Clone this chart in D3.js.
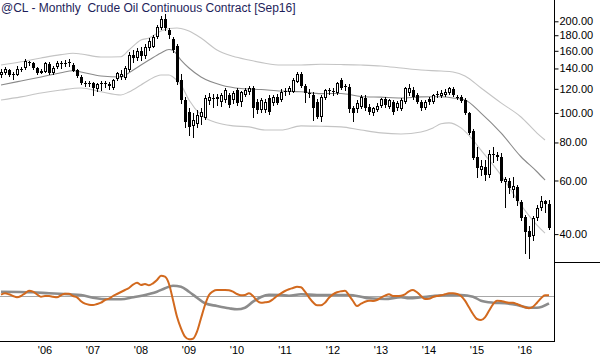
<!DOCTYPE html>
<html><head><meta charset="utf-8">
<script src="https://cdn.jsdelivr.net/npm/d3@7"></script>
<style>body{margin:0;background:#fff}svg{display:block}</style>
</head><body><svg id="c" width="600" height="360"></svg>
<script>
// Monthly bars: Feb 2005 .. Jul 2016
const months = d3.timeMonth.range(new Date(2005, 1, 1), new Date(2016, 7, 1));

const open = [133.3,135.0,138.3,133.3,133.3,138.3,140.2,147.3,145.6,140.2,
135.6,136.6,144.8,135.0,141.2,145.9,144.8,145.4,143.7,138.3,
131.6,125.2,125.5,125.0,119.6,124.3,125.0,122.7,120.5,129.0,
131.3,130.3,138.3,155.1,151.5,159.8,153.9,163.5,165.2,177.4,
189.7,203.6,187.3,175.0,165.9,128.3,110.3,100.7,90.7,92.1,
97.0,96.3,109.5,112.0,111.2,108.9,110.3,114.6,110.3,118.9,
108.7,114.6,117.2,120.8,108.7,102.2,102.2,112.0,107.9,112.5,
110.3,117.4,117.2,117.4,126.7,134.3,122.7,116.0,114.6,108.9,
97.3,112.0,118.3,117.4,116.0,128.3,122.0,122.0,103.8,103.0,
104.6,111.7,104.8,100.2,102.2,105.4,110.9,104.8,108.9,103.5,
102.8,108.9,116.0,118.9,114.6,108.9,103.5,111.2,108.9,114.6,
113.8,114.6,116.3,119.8,113.1,112.9,110.3,99.9,87.2,71.6,
64.9,66.5,62.5,72.7,72.7,71.6,59.3,59.7,55.8,57.1,
51.0,45.5,41.0,39.4,45.2,48.7,51.2,50.1];
const high = [139.1,142.0,139.1,136.6,142.7,141.6,150.0,148.6,147.0,141.6,
139.4,147.0,146.5,142.7,148.1,148.6,149.2,150.4,145.9,139.4,
133.3,127.4,126.9,126.0,125.5,127.8,127.4,126.4,129.3,136.3,
138.3,142.7,158.6,161.0,163.5,164.7,168.6,176.3,180.3,194.6,
208.3,211.5,190.2,177.7,168.6,134.3,112.9,103.8,99.7,102.2,
103.8,114.6,116.3,115.5,115.5,116.3,120.8,116.3,118.0,120.8,
118.0,120.8,122.7,122.7,111.1,112.0,111.1,114.6,114.6,115.5,
119.8,120.8,122.7,130.3,136.3,136.3,124.5,119.8,117.2,111.1,
114.6,119.8,120.8,120.8,126.4,130.3,124.5,124.5,105.4,110.3,
114.6,114.6,107.1,104.6,107.9,112.0,112.9,111.2,110.3,109.5,
112.0,121.7,124.5,121.7,116.3,110.3,110.3,112.9,115.5,118.0,
118.9,119.8,121.7,121.7,114.6,114.6,112.0,100.7,88.6,77.3,
70.0,70.0,75.5,77.3,74.4,73.8,61.6,61.2,61.6,58.0,
51.7,46.3,42.5,45.9,49.8,53.3,51.7,51.7];
const low = [131.6,134.0,132.3,129.0,132.8,137.3,139.4,143.7,139.4,134.3,
134.8,136.3,134.3,134.3,140.5,141.0,142.1,142.7,137.3,131.3,
124.5,123.0,122.6,114.6,118.5,118.9,121.7,119.8,119.8,128.3,
129.3,129.3,137.3,147.0,149.2,149.2,151.5,161.0,164.2,176.6,
188.8,187.3,176.3,158.6,124.5,107.9,90.0,84.7,83.4,90.0,
92.1,95.5,107.1,104.6,106.2,105.4,108.7,104.6,107.9,106.2,
105.4,113.8,115.5,97.0,100.0,100.7,100.7,99.3,106.2,107.1,
109.5,114.6,115.5,117.2,126.4,121.7,108.9,112.9,94.8,96.3,
93.9,111.1,115.5,114.6,115.5,119.8,118.9,100.7,93.9,100.7,
103.8,102.2,99.3,98.5,101.5,104.6,104.6,103.8,99.3,102.2,
102.2,107.9,114.6,111.2,107.9,102.2,103.0,107.1,107.9,112.9,
112.9,113.8,115.5,113.8,111.2,108.7,99.3,85.3,70.6,61.6,
62.5,60.2,61.6,69.0,70.0,59.3,49.1,54.6,53.0,49.8,
44.5,34.7,33.4,38.2,44.5,48.0,47.3,41.5];
const close = [136.6,139.4,133.3,133.8,139.1,139.4,148.1,145.6,140.2,135.6,
137.6,145.6,135.0,140.2,146.3,144.8,145.9,147.0,137.6,132.3,
125.2,125.5,125.0,120.5,124.3,125.0,124.5,124.5,128.3,135.0,
133.8,140.2,155.1,151.5,159.8,153.9,164.7,172.3,177.0,191.7,
203.6,189.7,179.8,161.0,126.4,110.3,93.6,90.0,94.8,98.5,
100.7,112.0,112.9,111.6,112.9,114.6,118.9,106.2,116.3,107.9,
117.2,118.9,120.8,103.8,102.2,110.3,108.7,100.7,112.9,108.1,
117.4,118.0,120.8,128.3,134.3,122.7,116.0,116.3,103.8,97.3,
113.1,118.9,118.6,118.0,125.2,120.5,122.7,102.8,100.2,107.9,
113.1,103.5,100.9,103.5,105.4,110.9,106.2,110.3,100.9,108.1,
110.3,120.5,120.5,112.9,108.9,103.5,108.9,108.9,114.6,115.5,
116.6,117.4,120.5,114.6,112.7,109.7,99.9,85.9,71.1,65.9,
67.0,62.5,73.3,73.3,71.6,59.7,60.7,56.7,57.6,51.2,
45.2,40.6,39.2,45.2,48.7,51.2,50.1,41.9];

// Channel lines (month index, value)
const midIdx = [0,5,10,15,18,20,25,30,32,35,37,40,42,43,45,47,50,55,60,65,70,75,80,85,90,95,100,105,110,113,116,120,125,130,134,136];
const midVal = [123.6,127.4,131.3,135.6,137.6,136.3,132.3,131.3,135.6,143.7,149.2,157.5,161.6,160.4,149.2,140.5,131.3,123.6,120.3,119.4,118.0,117.4,115.7,115.9,113.3,112.7,112.0,112.9,113.0,112.0,110.3,99.9,86.0,71.8,64.1,60.2];
const upIdx = [0,5,10,15,18,20,25,30,32,35,37,40,42,44,45,47,50,54,58,62,66,70,75,80,85,90,95,100,105,110,113,116,120,125,130,134,136];
const upVal = [143.7,147.2,151.5,155.4,157.0,156.2,152.7,153.0,161.0,173.6,176.3,185.9,189.5,190.2,189.5,185.9,176.3,161.0,153.5,149.2,145.6,143.7,143.7,144.5,144.2,143.7,142.7,140.5,138.3,137.3,136.3,132.3,120.8,107.9,97.0,85.9,81.5];
const lowIdx = [0,5,10,15,20,25,30,32,35,37,40,42,43,45,47,50,54,58,62,66,70,75,80,85,90,95,100,105,108,110,112,115,118,120,125,130,134,136];
const lowVal = [110.3,112.9,116.3,118.9,120.8,117.4,114.6,117.2,123.6,128.3,133.3,133.3,131.3,123.6,110.3,98.5,92.8,90.7,90.0,87.9,87.9,90.7,90.4,90.0,87.9,86.0,85.3,86.6,89.3,92.1,92.8,89.3,81.5,75.5,62.5,49.8,42.8,40.3];

// Oscillator panel
const oscFast = [1.3,2.7,1.7,0,-1.3,0,2.7,5.3,4.3,1.7,
-0.7,0,0,-0.7,-1.3,0.7,2.3,2.3,0,-1.3,
-5.3,-7.7,-8.7,-9,-8,-6.7,-4,-2.7,0,2,
4,6,8,11.3,13.3,11,12,10.7,12.7,16,
20.3,19.3,12,-4,-20.7,-32.3,-40.7,-43.3,-42.7,-35.7,
-22.3,-9,1,4.7,6,6,6,5.7,4.3,2,
0.7,1,2.7,0,-4.7,-6.7,-6.3,-5.7,-3.3,0,
2.7,5,6.7,8,9.3,8.7,4.3,-1.3,-6.3,-9.3,
-9.3,-6.7,-1.7,1.7,3.7,4.7,5.3,0.7,-5,-10,
-7.7,-5.7,-4.7,-5,-4,-1.7,0.3,1.7,0,0,
0.3,1.7,4.7,6,3.7,0,-3,-2.7,-1,0,
0.7,1.7,2.7,2.7,2,0,-4.7,-11.3,-18,-23,
-24,-21.3,-14.7,-8.3,-4.7,-5,-6,-6.7,-6.7,-8,
-9.7,-11.3,-12.3,-10.7,-6.7,-2.3,0.7,0.7];
const slowIdx = [0,8,12,17,20,23,27,30,33,37,39,41,43,45,47,49,51,54,57,59,61,63,65,67,70,72,75,79,83,87,90,92,96,100,102,105,108,112,115,118,120,123,126,129,132,134,137];
const slowVal = [4.3,3.7,2.7,1.7,1,-1.7,-3.3,-3.3,-1.3,2,4.3,7.7,10.3,9.3,4.3,-1.7,-7.3,-10,-12.3,-13.3,-11.7,-5.7,-1,1.3,1,0.3,1.7,1,1,1,-0.7,-2.3,-3,-1.3,-2.3,-1.3,0,1,1,-0.7,-4.7,-6.7,-7.3,-9,-11.7,-11.7,-7.3];

const priceTicks = [40,60,80,100,120,140,160,180,200];
const title = "@CL - Monthly  Crude Oil Continuous Contract [Sep16]";

const svg = d3.select('#c');
const FONT = "'Liberation Sans', Arial, sans-serif";
const AX = 554;

const x = d3.scaleBand().domain(months).range([-1, 551]).paddingInner(0.25).paddingOuter(0.125);
const cx = i => x(months[i]) + x.bandwidth() / 2;
const y = d3.scaleLog().domain([32.22, 234.96]).range([262.7, 0]);
const yo = d3.scaleLinear().domain([-45, 34]).range([341, 262]);

// channel lines
function bandLine(idx, vals, color) {
  const line = d3.line().x(d => cx(d[0])).y(d => y(d[1])).curve(d3.curveMonotoneX);
  svg.append('path').datum(idx.map((k, j) => [k, vals[j]]))
    .attr('d', line).attr('fill', 'none').attr('stroke', color).attr('stroke-width', 1.1);
}
bandLine(upIdx, upVal, '#c4c4c4');
bandLine(lowIdx, lowVal, '#c4c4c4');
bandLine(midIdx, midVal, '#8a8a8a');

// candles
const bars = months.map((m, i) => ({ m, o: open[i], h: high[i], l: low[i], c: close[i] }));
const g = svg.append('g');
bars.forEach(d => {
  const left = Math.round(x(d.m));
  const wx = left + 1.5;
  g.append('line').attr('x1', wx).attr('x2', wx)
    .attr('y1', Math.round(y(d.h))).attr('y2', Math.round(y(d.l)) + 1)
    .attr('stroke', '#000').attr('stroke-width', 1);
  const top = Math.round(y(Math.max(d.o, d.c)));
  const bot = Math.round(y(Math.min(d.o, d.c)));
  if (d.c >= d.o) {
    if (bot - top >= 2) {
      g.append('rect').attr('x', left + 0.5).attr('y', top + 0.5)
        .attr('width', 2).attr('height', bot - top - 1)
        .attr('fill', '#fff').attr('stroke', '#000').attr('stroke-width', 1);
    } else {
      g.append('rect').attr('x', left).attr('y', top).attr('width', 3).attr('height', Math.max(1, bot - top))
        .attr('fill', '#000');
    }
  } else {
    g.append('rect').attr('x', left).attr('y', top).attr('width', 3)
      .attr('height', Math.max(1, bot - top)).attr('fill', '#000');
  }
});

// oscillator panel
svg.append('line').attr('x1', 0).attr('x2', AX).attr('y1', Math.round(yo(0)) + 0.5).attr('y2', Math.round(yo(0)) + 0.5)
  .attr('stroke', '#a8a8a8').attr('stroke-width', 1);
const oline = d3.line().x(d => cx(d[0])).y(d => yo(d[1])).curve(d3.curveMonotoneX);
svg.append('path').datum(slowIdx.map((k, j) => [k, slowVal[j]]))
  .attr('d', oline).attr('fill', 'none').attr('stroke', '#8c8c8c').attr('stroke-width', 2.6);
svg.append('path').datum(oscFast.map((v, i) => [i, v]))
  .attr('d', oline).attr('fill', 'none').attr('stroke', '#d2691e').attr('stroke-width', 2);

// frame lines
svg.append('line').attr('x1', AX + 0.5).attr('x2', AX + 0.5).attr('y1', 0).attr('y2', 342)
  .attr('stroke', '#000');
svg.append('line').attr('x1', 0).attr('x2', AX + 1).attr('y1', 341.5).attr('y2', 341.5).attr('stroke', '#000');
svg.append('line').attr('x1', AX).attr('x2', 600).attr('y1', 262.5).attr('y2', 262.5).attr('stroke', '#000');

// right price axis
const ya = svg.append('g').attr('transform', `translate(${AX + 0.5},0)`)
  .call(d3.axisRight(y).tickValues(priceTicks).tickFormat(d3.format('.2f')).tickSize(4).tickPadding(1));
ya.select('.domain').remove();
ya.selectAll('text').attr('font-family', FONT).attr('font-size', 11).attr('fill', '#000');
ya.selectAll('line').attr('stroke', '#000');

// bottom time axis
const jans = months.filter(m => m.getMonth() === 0);
const xa = svg.append('g').attr('transform', 'translate(0,341)')
  .call(d3.axisBottom(x).tickValues(jans).tickFormat(d => "'" + d3.timeFormat('%y')(d)).tickSize(0).tickPadding(5));
xa.select('.domain').remove();
xa.selectAll('text').attr('font-family', FONT).attr('font-size', 11).attr('fill', '#000');

// title
svg.append('text').attr('x', 1).attr('y', 12).attr('font-family', FONT).attr('font-size', 12)
  .attr('fill', '#1e1e5a').style('white-space', 'pre').text(title);
</script></body></html>
